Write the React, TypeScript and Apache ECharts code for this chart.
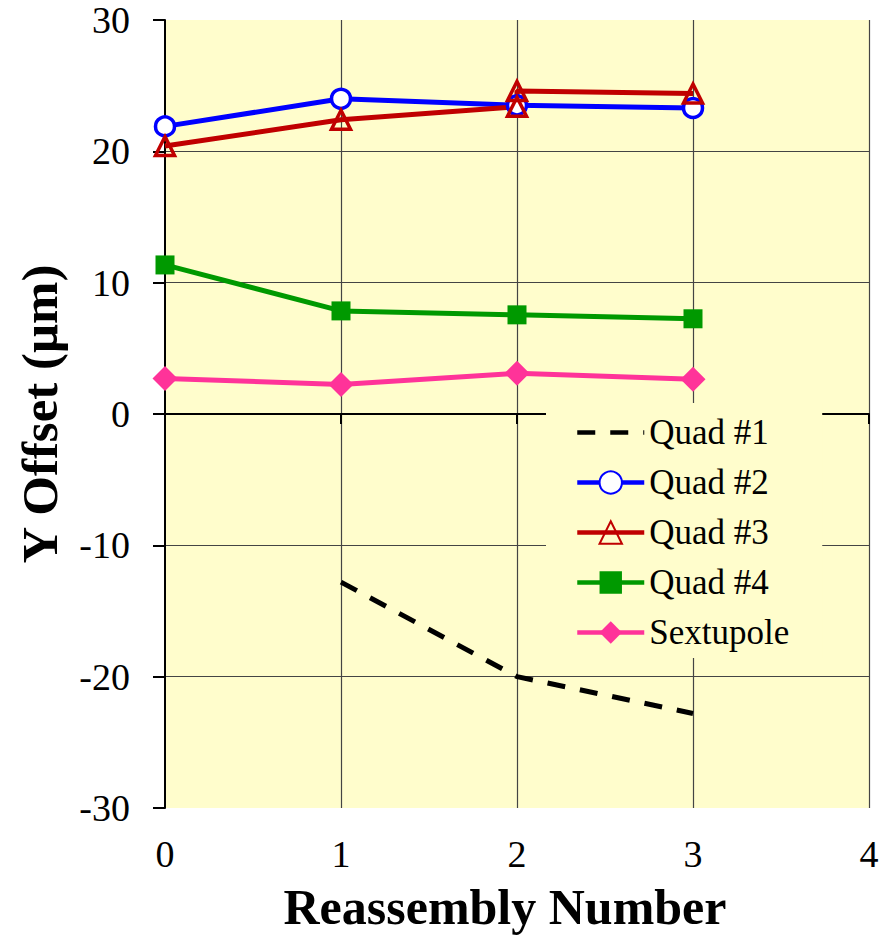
import React, { useEffect, useRef } from "react";
import * as echarts from "echarts";

// Reassembly index (x) and measured Y offset in micrometres (y) per magnet
const quad1X = [1, 2, 3];
const quad1Y = [-12.8, -20.0, -22.8];

const quad2X = [0, 1, 2, 3];
const quad2Y = [21.9, 24.0, 23.5, 23.3];

const quad3X = [0, 1, 2, 2, 3];
const quad3Y = [20.4, 22.4, 23.4, 24.6, 24.4];

const quad4X = [0, 1, 2, 3];
const quad4Y = [11.35, 7.85, 7.55, 7.25];

const sextX = [0, 1, 2, 3];
const sextY = [2.7, 2.25, 3.1, 2.65];

const seriesNames = ["Quad #1", "Quad #2", "Quad #3", "Quad #4", "Sextupole"];

const FONT = "'Times New Roman', 'Liberation Serif', serif";
const PLOT_BG = "#FFFDCC";

const pairs = (xs: number[], ys: number[]) => xs.map((x, i) => [x, ys[i]]);

export default function App() {
  const ref = useRef<HTMLDivElement>(null);

  useEffect(() => {
    if (!ref.current) return;
    const chart = echarts.init(ref.current, undefined, { renderer: "svg" });

    const axisLine = { show: true, lineStyle: { color: "#000", width: 2 } };
    const gridLine = { color: "#444", width: 1.2 };

    chart.setOption({
      animation: false,
      backgroundColor: "#fff",
      grid: {
        left: 165,
        right: 16,
        top: 20,
        bottom: 131,
        show: true,
        backgroundColor: PLOT_BG,
        borderWidth: 0,
      },
      xAxis: {
        type: "value",
        min: 0,
        max: 4,
        interval: 1,
        name: "Reassembly Number",
        nameLocation: "middle",
        nameGap: 74,
        nameTextStyle: {
          fontFamily: FONT,
          fontSize: 50,
          fontWeight: "bold",
          color: "#000",
          padding: [0, 24, 0, 0],
        },
        axisLine,
        axisTick: { show: true, inside: false, length: 10, lineStyle: { color: "#000", width: 2 } },
        axisLabel: { fontFamily: FONT, fontSize: 38, color: "#000", margin: 27 },
        splitLine: { show: true, showMinLine: false, showMaxLine: true, lineStyle: gridLine },
      },
      yAxis: {
        type: "value",
        min: -30,
        max: 30,
        interval: 10,
        name: "Y Offset (μm)",
        nameLocation: "middle",
        nameGap: 100,
        nameTextStyle: { fontFamily: FONT, fontSize: 51, fontWeight: "bold", color: "#000" },
        axisLine,
        axisTick: { show: true, inside: false, length: 12, lineStyle: { color: "#000", width: 2 } },
        axisLabel: { fontFamily: FONT, fontSize: 38, color: "#000", margin: 35 },
        splitLine: { show: true, showMinLine: false, showMaxLine: false, lineStyle: gridLine },
      },
      legend: {
        orient: "vertical",
        left: 546,
        top: 403,
        padding: [12, 33, 8, 29],
        backgroundColor: PLOT_BG,
        itemWidth: 67,
        itemHeight: 28,
        itemGap: 15,
        lineStyle: { width: 4.5 },
        textStyle: { fontFamily: FONT, fontSize: 35, color: "#000", lineHeight: 35 },
        data: seriesNames,
      },
      series: [
        {
          name: seriesNames[0],
          type: "line",
          data: pairs(quad1X, quad1Y),
          symbol: "none",
          itemStyle: { color: "transparent", borderWidth: 0 },
          lineStyle: { color: "#000", width: 5, type: [18, 15] },
        },
        {
          name: seriesNames[1],
          type: "line",
          data: pairs(quad2X, quad2Y),
          symbol: "circle",
          symbolSize: 19,
          itemStyle: { color: "#fff", borderColor: "#0000FF", borderWidth: 3.5 },
          lineStyle: { color: "#0000FF", width: 5 },
        },
        {
          name: seriesNames[2],
          type: "line",
          data: pairs(quad3X, quad3Y),
          symbol: "triangle",
          symbolSize: 19,
          itemStyle: { color: "transparent", borderColor: "#C00000", borderWidth: 3.5 },
          lineStyle: { color: "#C00000", width: 5 },
        },
        {
          name: seriesNames[3],
          type: "line",
          data: pairs(quad4X, quad4Y),
          symbol: "rect",
          symbolSize: 19,
          itemStyle: { color: "#009900", borderWidth: 0 },
          lineStyle: { color: "#009900", width: 5 },
        },
        {
          name: seriesNames[4],
          type: "line",
          data: pairs(sextX, sextY),
          symbol: "diamond",
          symbolSize: 25,
          itemStyle: { color: "#FF3399", borderWidth: 0 },
          lineStyle: { color: "#FF3399", width: 5 },
        },
      ],
    });

    return () => chart.dispose();
  }, []);

  return (
    <div
      ref={ref}
      style={{ position: "fixed", left: 0, top: 0, width: 885, height: 939 }}
    />
  );
}
